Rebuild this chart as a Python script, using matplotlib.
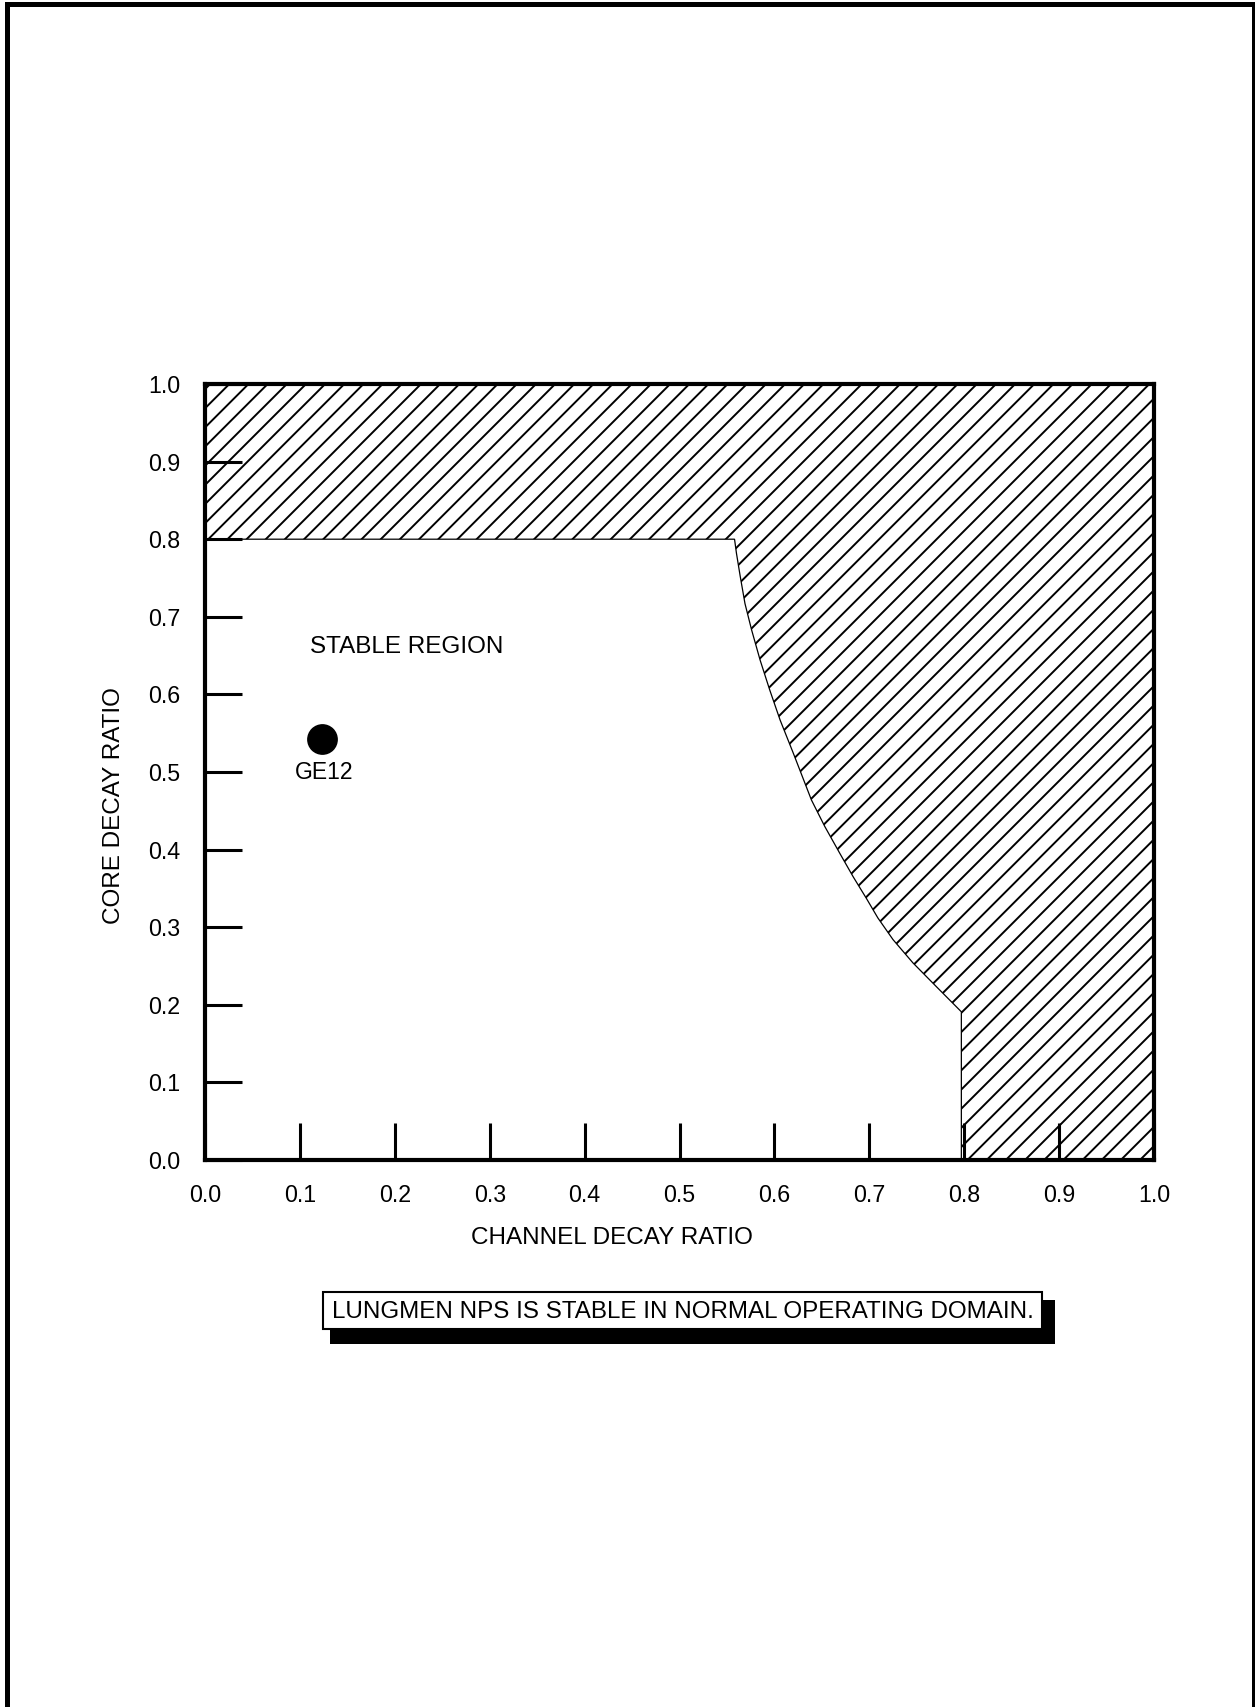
import matplotlib
matplotlib.use('Agg')
import matplotlib.pyplot as plt
import numpy as np
from matplotlib.patches import Polygon, Rectangle

# 稳定边界（通道衰减比, 堆芯衰减比）
boundary_x = [0.558, 0.560, 0.564, 0.569, 0.576, 0.585, 0.595, 0.606, 0.620,
              0.639, 0.653, 0.669, 0.683, 0.697, 0.709, 0.725, 0.746, 0.771, 0.797]
boundary_y = [0.800, 0.782, 0.752, 0.717, 0.683, 0.644, 0.606, 0.567, 0.524,
              0.464, 0.430, 0.395, 0.365, 0.337, 0.312, 0.284, 0.254, 0.223, 0.191]
core_limit = 0.8

# GE12 工作点
point_x = [0.123]
point_y = [0.542]
point_label = 'GE12'

ticks = [round(0.1 * i, 1) for i in range(11)]
tick_labels = [f'{t:.1f}' for t in ticks]

W, H = 1255, 1707
DPI = 115  # 阴影线间距随dpi变化


def pt(v):
    """按100dpi设计的尺寸换算到实际dpi"""
    return v * 100 / DPI


plt.rcParams['font.family'] = ['Liberation Sans', 'DejaVu Sans']
plt.rcParams['hatch.linewidth'] = pt(1.4)

fig = plt.figure(figsize=(W / DPI, H / DPI), dpi=DPI)


def px(x0, y0, x1, y1):
    """像素坐标 -> 图形坐标 (left, bottom, width, height)"""
    return x0 / W, 1 - y1 / H, (x1 - x0) / W, (y1 - y0) / H


ax = fig.add_axes(px(205, 384, 1154, 1160))
ax.set_xlim(0, 1)
ax.set_ylim(0, 1)

# 不稳定区域（阴影）
verts = [(0, core_limit)] + list(zip(boundary_x, boundary_y)) + \
        [(boundary_x[-1], 0), (1, 0), (1, 1), (0, 1)]
ax.add_patch(Polygon(verts, closed=True, facecolor='white', edgecolor='black',
                     hatch='//', linewidth=pt(0.9), zorder=1))

# 工作点
ax.plot(point_x, point_y, 'o', color='black', markersize=pt(21), zorder=3)
ax.text(point_x[0] + 0.003, point_y[0] - 0.043, point_label, ha='center', va='center',
        fontsize=pt(16.5), zorder=3)
ax.text(0.212, 0.661, 'STABLE REGION', ha='center', va='center', fontsize=pt(17.5))

# 坐标轴
ax.set_xticks(ticks)
ax.set_xticklabels(tick_labels)
ax.set_yticks(ticks)
ax.set_yticklabels(tick_labels)
ax.tick_params(direction='in', length=pt(26.6), width=pt(2.2), labelsize=pt(16.8), colors='black')
ax.tick_params(axis='x', pad=pt(17.5))
ax.tick_params(axis='y', pad=pt(18))
for s in ax.spines.values():
    s.set_linewidth(pt(3))
    s.set_zorder(4)

ax.set_xlabel('CHANNEL DECAY RATIO', fontsize=pt(17.5), va='center')
ax.xaxis.set_label_coords(0.429, -0.1)
ax.set_ylabel('CORE DECAY RATIO', fontsize=pt(17.5), va='center')
ax.yaxis.set_label_coords(-0.096, 0.457)

# 结论框（带阴影）
fig.patches.append(Rectangle(px(330, 1300, 1055, 1344)[:2], *px(330, 1300, 1055, 1344)[2:],
                             transform=fig.transFigure, facecolor='black', edgecolor='none'))
fig.patches.append(Rectangle(px(323, 1292, 1042, 1329)[:2], *px(323, 1292, 1042, 1329)[2:],
                             transform=fig.transFigure, facecolor='white', edgecolor='black',
                             linewidth=pt(1.5)))
fig.text((323 + 1042) / 2 / W, 1 - 1312 / H, 'LUNGMEN NPS IS STABLE IN NORMAL OPERATING DOMAIN.',
         ha='center', va='center', fontsize=pt(17.4))

# 页面边框
fig.patches.append(Rectangle((6.5 / W, -0.01), (1253.5 - 6.5) / W, 1.01 - 4.5 / H,
                             transform=fig.transFigure, facecolor='none', edgecolor='black',
                             linewidth=pt(3.6)))

plt.savefig('out.png', dpi=DPI)
plt.close()
